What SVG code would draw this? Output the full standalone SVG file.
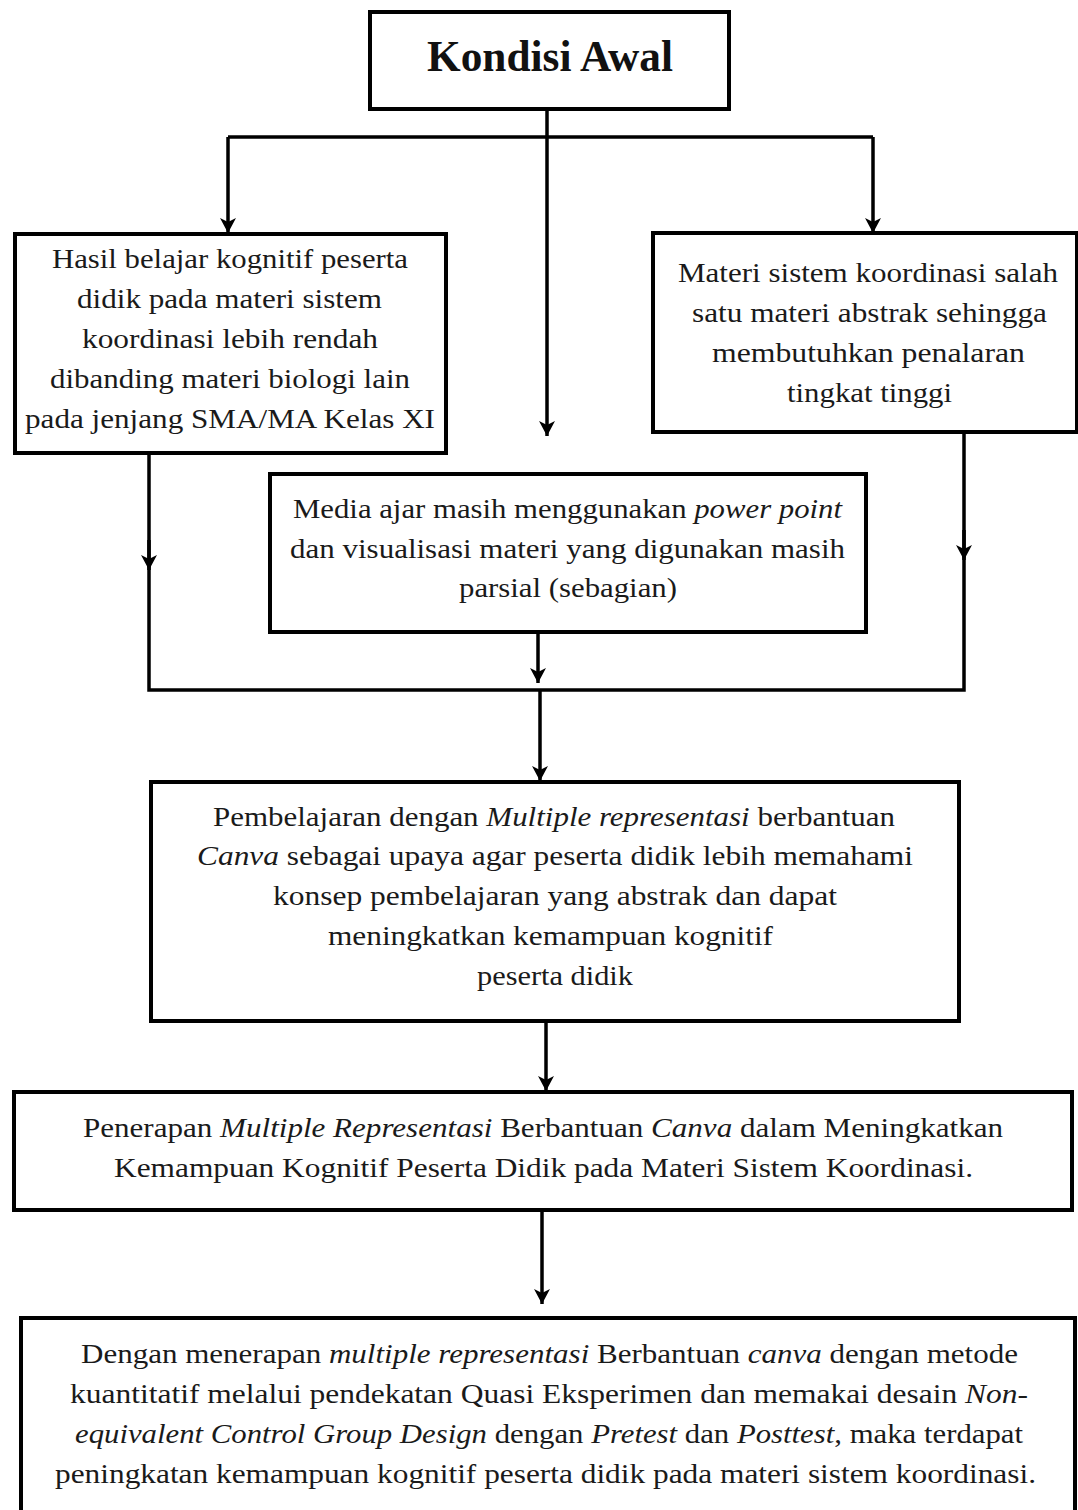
<svg xmlns="http://www.w3.org/2000/svg" width="1078" height="1510" viewBox="0 0 1078 1510">
<style>
.box{fill:#fff;stroke:#000;stroke-width:4}
.con{fill:none;stroke:#000;stroke-width:3.5}
.t{font-family:"Liberation Serif",serif;font-size:27px;fill:#1a1a1a}
.title{font-family:"Liberation Serif",serif;font-size:44px;font-weight:bold;fill:#111}
.i{font-style:italic}
</style>
<defs>
<marker id="ah" markerUnits="userSpaceOnUse" markerWidth="18" markerHeight="18" refX="15" refY="9" orient="auto" overflow="visible">
<path d="M0,1 L15,9 L0,17 L4,9 Z" fill="#000"/>
</marker>
</defs>
<rect width="1078" height="1510" fill="#fff"/>

<g id="connectors">
<path class="con" d="M547,109 V436" marker-end="url(#ah)"/>
<path class="con" d="M228,137 H873"/>
<path class="con" d="M228,137 V233" marker-end="url(#ah)"/>
<path class="con" d="M873,137 V233" marker-end="url(#ah)"/>
<path class="con" d="M149,454 V690 H964 V433"/>
<path class="con" d="M149,540 V570" marker-end="url(#ah)"/>
<path class="con" d="M964,530 V560" marker-end="url(#ah)"/>
<path class="con" d="M538,632 V683" marker-end="url(#ah)"/>
<path class="con" d="M540,690 V781" marker-end="url(#ah)"/>
<path class="con" d="M546,1021 V1091" marker-end="url(#ah)"/>
<path class="con" d="M542,1210 V1304" marker-end="url(#ah)"/>
</g>

<g id="kondisi-awal">
<rect class="box" x="370" y="12" width="359" height="97"/>
<text class="title" x="427" y="71" textLength="246" lengthAdjust="spacingAndGlyphs">Kondisi Awal</text>
</g>

<g id="hasil-belajar">
<rect class="box" x="15" y="234" width="431" height="219"/>
<text class="t" x="52" y="268" textLength="356" lengthAdjust="spacingAndGlyphs">Hasil belajar kognitif peserta</text>
<text class="t" x="77" y="308" textLength="305" lengthAdjust="spacingAndGlyphs">didik pada materi sistem</text>
<text class="t" x="82" y="348" textLength="296" lengthAdjust="spacingAndGlyphs">koordinasi lebih rendah</text>
<text class="t" x="50" y="388" textLength="360" lengthAdjust="spacingAndGlyphs">dibanding materi biologi lain</text>
<text class="t" x="25" y="428" textLength="410" lengthAdjust="spacingAndGlyphs">pada jenjang SMA/MA Kelas XI</text>
</g>

<g id="materi-abstrak">
<rect class="box" x="653" y="233" width="424" height="199"/>
<text class="t" x="678" y="282" textLength="380" lengthAdjust="spacingAndGlyphs">Materi sistem koordinasi salah</text>
<text class="t" x="692" y="322" textLength="355" lengthAdjust="spacingAndGlyphs">satu materi abstrak sehingga</text>
<text class="t" x="712" y="362" textLength="313" lengthAdjust="spacingAndGlyphs">membutuhkan penalaran</text>
<text class="t" x="787" y="402" textLength="165" lengthAdjust="spacingAndGlyphs">tingkat tinggi</text>
</g>

<g id="media-ajar">
<rect class="box" x="270" y="474" width="596" height="158"/>
<text class="t" x="293" y="518" textLength="549" lengthAdjust="spacingAndGlyphs">Media ajar masih menggunakan <tspan class="i">power point</tspan></text>
<text class="t" x="290" y="558" textLength="555" lengthAdjust="spacingAndGlyphs">dan visualisasi materi yang digunakan masih</text>
<text class="t" x="459" y="597" textLength="218" lengthAdjust="spacingAndGlyphs">parsial (sebagian)</text>
</g>

<g id="pembelajaran">
<rect class="box" x="151" y="782" width="808" height="239"/>
<text class="t" x="213" y="826" textLength="682" lengthAdjust="spacingAndGlyphs">Pembelajaran dengan <tspan class="i">Multiple representasi</tspan> berbantuan</text>
<text class="t" x="197" y="865" textLength="716" lengthAdjust="spacingAndGlyphs"><tspan class="i">Canva</tspan> sebagai upaya agar  peserta didik  lebih memahami</text>
<text class="t" x="273" y="905" textLength="564" lengthAdjust="spacingAndGlyphs">konsep pembelajaran yang abstrak dan dapat</text>
<text class="t" x="328" y="945" textLength="445" lengthAdjust="spacingAndGlyphs">meningkatkan kemampuan kognitif</text>
<text class="t" x="477" y="985" textLength="156" lengthAdjust="spacingAndGlyphs">peserta didik</text>
</g>

<g id="penerapan">
<rect class="box" x="14" y="1092" width="1058" height="118"/>
<text class="t" x="83" y="1137" textLength="920" lengthAdjust="spacingAndGlyphs">Penerapan <tspan class="i">Multiple Representasi</tspan> Berbantuan <tspan class="i">Canva</tspan> dalam Meningkatkan</text>
<text class="t" x="114" y="1177" textLength="859" lengthAdjust="spacingAndGlyphs">Kemampuan Kognitif Peserta Didik pada Materi Sistem Koordinasi.</text>
</g>

<g id="kesimpulan">
<rect class="box" x="21" y="1318" width="1054" height="240"/>
<text class="t" x="81" y="1363" textLength="937" lengthAdjust="spacingAndGlyphs">Dengan menerapan  <tspan class="i">multiple representasi</tspan> Berbantuan <tspan class="i">canva</tspan> dengan metode</text>
<text class="t" x="70" y="1403" textLength="958" lengthAdjust="spacingAndGlyphs">kuantitatif melalui pendekatan  Quasi Eksperimen dan memakai desain <tspan class="i">Non-</tspan></text>
<text class="t" x="75" y="1443" textLength="948" lengthAdjust="spacingAndGlyphs"><tspan class="i">equivalent Control Group Design</tspan> dengan <tspan class="i">Pretest</tspan> dan <tspan class="i">Posttest</tspan>, maka terdapat</text>
<text class="t" x="55" y="1483" textLength="981" lengthAdjust="spacingAndGlyphs">peningkatan kemampuan kognitif peserta didik pada materi sistem koordinasi.</text>
</g>
</svg>
